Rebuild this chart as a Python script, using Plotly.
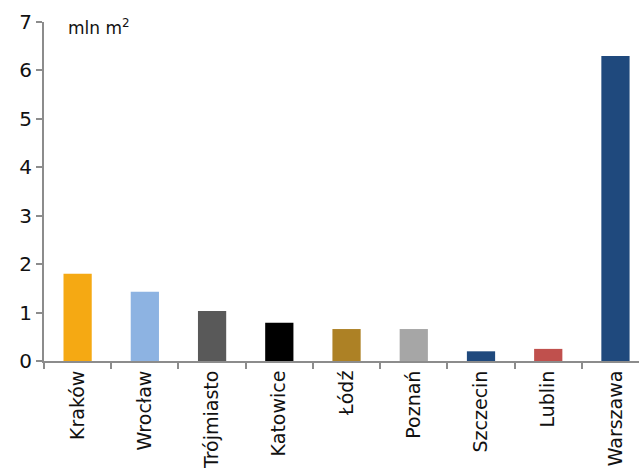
import plotly.graph_objects as go

cities = ["Kraków", "Wrocław", "Trójmiasto", "Katowice", "Łódź", "Poznań", "Szczecin", "Lublin", "Warszawa"]
values = [1.80, 1.43, 1.03, 0.79, 0.66, 0.66, 0.20, 0.25, 6.30]
colors = ["#F5A913", "#8DB3E2", "#595959", "#000000", "#AD8125", "#A6A6A6", "#1F497D", "#C0504D", "#1F497D"]
y_ticks = [0, 1, 2, 3, 4, 5, 6, 7]

fig = go.Figure(go.Bar(x=cities, y=values, marker=dict(color=colors, line=dict(width=0)), width=0.42))

font = "DejaVu Sans, sans-serif"
fig.update_layout(
    width=639, height=468,
    margin=dict(l=44, r=0, t=22, b=107),
    plot_bgcolor="white", paper_bgcolor="white",
    showlegend=False,
    font=dict(family=font, size=19, color="#111111"),
    xaxis=dict(
        range=[-0.5, 8.35], showline=True, linecolor="#8c8c8c", linewidth=2,
        ticks="outside", tickson="boundaries", ticklen=6, tickcolor="#8c8c8c", tickwidth=2,
        tickangle=-90, automargin=False, showgrid=False, tickfont=dict(size=19),
    ),
    yaxis=dict(
        range=[0, 7], tickvals=y_ticks, showline=True, linecolor="#8c8c8c", linewidth=2,
        ticks="outside", ticklen=6, tickcolor="#8c8c8c", tickwidth=2,
        showgrid=False, zeroline=False, automargin=False, tickfont=dict(size=20),
    ),
    annotations=[dict(text="mln m<sup>2</sup>", x=0.037, y=1.025, xref="paper", yref="paper",
                      xanchor="left", yanchor="top", showarrow=False, font=dict(size=17))],
)

fig.write_html("out.html")
